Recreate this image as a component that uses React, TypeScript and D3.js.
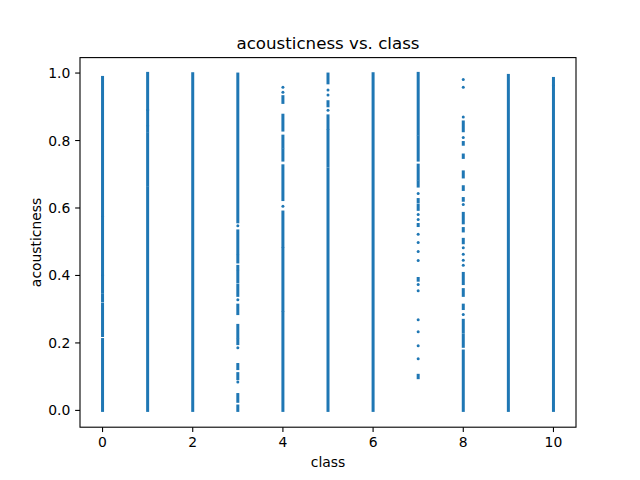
import * as d3 from "d3";

// class ids on the x axis
const classes = [0, 1, 2, 3, 4, 5, 6, 7, 8, 9, 10];

// stretches where the points sit so close they form a solid bar: [class, low, high]
const denseRanges: [number, number, number][] = [
  [0, 0, 0.21], [0, 0.222, 0.315], [0, 0.325, 0.343], [0, 0.352, 0.398], [0, 0.403, 0.572], [0, 0.578, 0.987],
  [1, 0, 0.66], [1, 0.668, 0.82], [1, 0.828, 0.84], [1, 0.847, 0.888], [1, 0.893, 0.999],
  [2, 0, 0.998],
  [3, 0, 0.013], [3, 0.027, 0.047], [3, 0.094, 0.109], [3, 0.124, 0.136], [3, 0.198, 0.21], [3, 0.218, 0.252],
  [3, 0.287, 0.312], [3, 0.341, 0.371], [3, 0.381, 0.412], [3, 0.42, 0.427], [3, 0.44, 0.457], [3, 0.465, 0.532],
  [3, 0.559, 0.997],
  [4, 0, 0.29], [4, 0.297, 0.48], [4, 0.487, 0.588], [4, 0.625, 0.725], [4, 0.742, 0.772], [4, 0.78, 0.813],
  [4, 0.831, 0.875], [4, 0.913, 0.93],
  [5, 0, 0.715], [5, 0.724, 0.829], [5, 0.836, 0.873], [5, 0.903, 0.915], [5, 0.971, 0.997],
  [6, 0, 0.998],
  [7, 0.097, 0.104], [7, 0.386, 0.391], [7, 0.548, 0.551], [7, 0.596, 0.608], [7, 0.618, 0.625],
  [7, 0.665, 0.677], [7, 0.685, 0.727], [7, 0.742, 0.811], [7, 0.819, 0.999],
  [8, 0, 0.176], [8, 0.19, 0.223], [8, 0.232, 0.267], [8, 0.302, 0.312], [8, 0.341, 0.358], [8, 0.376, 0.406],
  [8, 0.497, 0.507], [8, 0.532, 0.539], [8, 0.556, 0.584], [8, 0.623, 0.628], [8, 0.655, 0.663],
  [8, 0.692, 0.707], [8, 0.75, 0.757], [8, 0.789, 0.794], [8, 0.829, 0.855],
  [9, 0, 0.993],
  [10, 0, 0.961], [10, 0.966, 0.984],
];

// isolated points: [class, acousticness]
const sparsePoints: [number, number][] = [
  [3, 0.084], [3, 0.186], [3, 0.328], [3, 0.547],
  [4, 0.605], [4, 0.943], [4, 0.958],
  [5, 0.89], [5, 0.935], [5, 0.95],
  [7, 0.153], [7, 0.192], [7, 0.233], [7, 0.269], [7, 0.355], [7, 0.373], [7, 0.444], [7, 0.471],
  [7, 0.498], [7, 0.522], [7, 0.566], [7, 0.581], [7, 0.643],
  [8, 0.284], [8, 0.43], [8, 0.445], [8, 0.463], [8, 0.482], [8, 0.61], [8, 0.809], [8, 0.87],
  [8, 0.958], [8, 0.981],
];

const xTicks = [0, 2, 4, 6, 8, 10];
const yTicks = [0, 0.2, 0.4, 0.6, 0.8, 1.0];

const W = 640;
const H = 480;
const margin = { top: 57.6, right: 64, bottom: 52.8, left: 80 };
const COLOR = "#1f77b4";
const FONT = "DejaVu Sans, sans-serif";
const TICK = 4.86;

export default function App() {
  const innerW = W - margin.left - margin.right;
  const innerH = H - margin.top - margin.bottom;

  const x = d3
    .scaleLinear()
    .domain([d3.min(classes)! - 0.5, d3.max(classes)! + 0.5])
    .range([margin.left, margin.left + innerW]);

  const y = d3
    .scaleLinear()
    .domain([-0.0498, 1.0458])
    .range([margin.top + innerH, margin.top]);

  const half = 1.5;

  return (
    <div style={{ position: "fixed", left: 0, top: 0 }}>
      <svg width={W} height={H} style={{ display: "block", background: "#fff" }}>
        {/* markers */}
        <g fill={COLOR}>
          {denseRanges.map(([c, lo, hi], i) => (
            <rect
              key={"r" + i}
              x={x(c) - half}
              width={half * 2}
              y={y(hi) - half}
              height={y(lo) - y(hi) + half * 2}
            />
          ))}
          {sparsePoints.map(([c, v], i) => (
            <circle key={"p" + i} cx={x(c)} cy={y(v)} r={half} />
          ))}
        </g>

        {/* frame */}
        <rect
          x={margin.left}
          y={margin.top}
          width={innerW}
          height={innerH}
          fill="none"
          stroke="#000"
          strokeWidth={1.1}
        />

        {/* axes */}
        <g fontFamily={FONT} fontSize={13.9} fill="#000">
          {xTicks.map((t) => (
            <g key={"x" + t}>
              <line
                x1={x(t)}
                x2={x(t)}
                y1={margin.top + innerH}
                y2={margin.top + innerH + TICK}
                stroke="#000"
                strokeWidth={1.1}
              />
              <text x={x(t)} y={447.3} textAnchor="middle">
                {t}
              </text>
            </g>
          ))}
          {yTicks.map((t) => (
            <g key={"y" + t}>
              <line
                x1={margin.left - TICK}
                x2={margin.left}
                y1={y(t)}
                y2={y(t)}
                stroke="#000"
                strokeWidth={1.1}
              />
              <text x={margin.left - TICK * 2} y={y(t)} dy="0.36em" textAnchor="end">
                {t.toFixed(1)}
              </text>
            </g>
          ))}
          <text x={margin.left + innerW / 2} y={466.5} textAnchor="middle">
            class
          </text>
          <text
            transform={`translate(40.5, ${margin.top + innerH / 2}) rotate(-90)`}
            textAnchor="middle"
          >
            acousticness
          </text>
        </g>

        {/* title */}
        <text
          x={margin.left + innerW / 2}
          y={49.3}
          textAnchor="middle"
          fontFamily={FONT}
          fontSize={16.67}
          fill="#000"
        >
          acousticness vs. class
        </text>
      </svg>
    </div>
  );
}
